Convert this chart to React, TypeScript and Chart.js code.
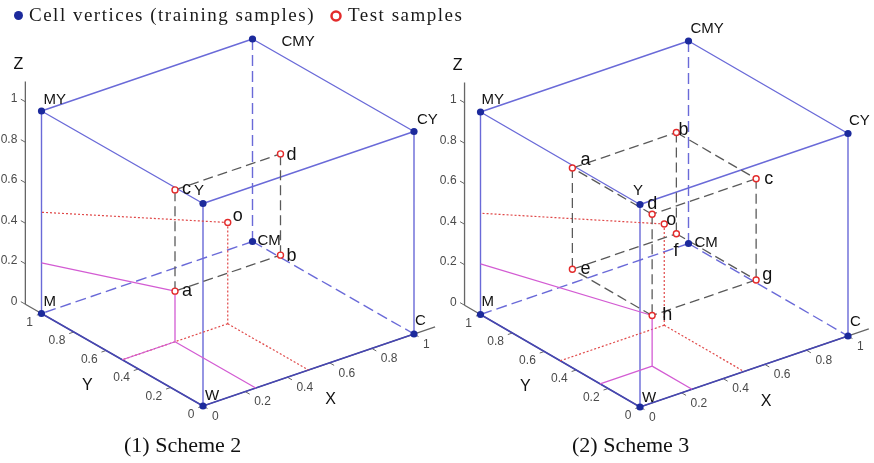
import React, { useEffect, useRef } from "react";
import { Chart, registerables } from "chart.js";

Chart.register(...registerables);

// ---------------- data ----------------
const vertexNames = ["W", "C", "M", "Y", "CM", "CY", "MY", "CMY"];
const vertexX = [0, 1, 0, 0, 1, 1, 0, 1];
const vertexY = [0, 0, 1, 0, 1, 0, 1, 1];
const vertexZ = [0, 0, 0, 1, 0, 1, 1, 1];

const visibleEdges = [["Y", "MY"], ["MY", "CMY"], ["CMY", "CY"], ["CY", "Y"], ["Y", "W"], ["MY", "M"], ["CY", "C"]];
const baseEdges = [["W", "C"], ["W", "M"]];
const hiddenEdges = [["CMY", "CM"], ["CM", "M"], ["CM", "C"]];

// Scheme 2 test samples
const scheme2Names = ["a", "b", "c", "d", "o"];
const scheme2X = [0.25, 0.75, 0.25, 0.75, 0.5];
const scheme2Y = [0.5, 0.5, 0.5, 0.5, 0.5];
const scheme2Z = [0.25, 0.25, 0.75, 0.75, 0.5];
const scheme2Edges = [["a", "b"], ["c", "d"], ["a", "c"], ["b", "d"]];
const scheme2Guide = "a";

// Scheme 3 test samples
const scheme3Names = ["a", "b", "c", "d", "e", "f", "g", "h", "o"];
const scheme3X = [0.25, 0.75, 0.75, 0.25, 0.25, 0.75, 0.75, 0.25, 0.5];
const scheme3Y = [0.75, 0.75, 0.25, 0.25, 0.75, 0.75, 0.25, 0.25, 0.5];
const scheme3Z = [0.75, 0.75, 0.75, 0.75, 0.25, 0.25, 0.25, 0.25, 0.5];
const scheme3Edges = [
  ["a", "b"], ["b", "c"], ["c", "d"], ["d", "a"],
  ["e", "f"], ["f", "g"], ["g", "h"], ["h", "e"],
  ["a", "e"], ["b", "f"], ["c", "g"], ["d", "h"],
];
const scheme3Guide = "h";
const centreSample = "o";

const tickValues = [0, 0.2, 0.4, 0.6, 0.8, 1];
const tickLabels = ["0", "0.2", "0.4", "0.6", "0.8", "1"];
const axisLimit = 1.1;
const axisTitles = ["X", "Y", "Z"];
const captions = ["(1) Scheme 2", "(2) Scheme 3"];
const legendLabels = ["Cell vertices (training samples)", "Test samples"];

// ---------------- layout ----------------
type V2 = [number, number];
interface PanelLayout {
  origin: V2; ex: V2; ey: V2; ez: V2;
  vertexLabel: Record<string, V2>;
  sampleLabel: Record<string, V2>;
  caption: V2;
}

const CW = 874;
const CH = 463;

const panels: PanelLayout[] = [
  {
    origin: [203, 406], ex: [211, -72], ey: [-161.5, -92.5], ez: [0, -202.5],
    vertexLabel: { W: [2, -6], C: [1, -9], M: [2, -8], CM: [5, 3], Y: [-9, -9], CY: [3, -8], MY: [2, -7], CMY: [29, 7] },
    sampleLabel: { a: [7, 5], b: [6, 5.5], c: [7, 4], d: [6, 6], o: [5, -2] },
    caption: [124, 451.5],
  },
  {
    origin: [640, 407], ex: [208, -71], ey: [-159.5, -92.5], ez: [0, -202.5],
    vertexLabel: { W: [2, -5], C: [2, -10], M: [1, -9], CM: [6, 3], Y: [-7, -10], CY: [1, -9], MY: [1, -8], CMY: [2, -8] },
    sampleLabel: { a: [8, -3], b: [2, 2.5], c: [8, 5], d: [-5, -5], o: [2, 1], e: [8, 5], f: [-3, 22], g: [6, 0], h: [10, 4] },
    caption: [572, 451.5],
  },
];

// legend layout: marker centre, text start / baseline
const legendLayout = [
  { marker: [18.5, 15.5] as V2, text: [29, 20.5] as V2 },
  { marker: [336, 16] as V2, text: [348, 20.5] as V2 },
];

const schemes = [
  { names: scheme2Names, xs: scheme2X, ys: scheme2Y, zs: scheme2Z, edges: scheme2Edges, guide: scheme2Guide },
  { names: scheme3Names, xs: scheme3X, ys: scheme3Y, zs: scheme3Z, edges: scheme3Edges, guide: scheme3Guide },
];

const COLORS = {
  vertex: "#1c2a9c",
  sample: "#e32b2b",
  edge: "#6a6ad8",
  base: "#4646b2",
  innerDash: "#5a5a5a",
  pink: "#d35cd3",
  dotted: "#e04848",
  axis: "#666666",
  text: "#111111",
  tick: "#4a4a4a",
};

type P3 = [number, number, number];
type Pt = { x: number | null; y: number | null };

function project(p: PanelLayout, q: P3): Pt {
  return {
    x: p.origin[0] + q[0] * p.ex[0] + q[1] * p.ey[0] + q[2] * p.ez[0],
    y: p.origin[1] + q[0] * p.ex[1] + q[1] * p.ey[1] + q[2] * p.ez[1],
  };
}

const GAP: Pt = { x: null, y: null };

function vertex3(name: string): P3 {
  const i = vertexNames.indexOf(name);
  return [vertexX[i], vertexY[i], vertexZ[i]];
}

function sample3(s: (typeof schemes)[number], name: string): P3 {
  const i = s.names.indexOf(name);
  return [s.xs[i], s.ys[i], s.zs[i]];
}

// Build segment data (with gaps) for both panels
function buildSegments(fn: (k: number) => [P3, P3][]): Pt[] {
  const out: Pt[] = [];
  panels.forEach((p, k) => {
    fn(k).forEach(([a, b]) => {
      out.push(project(p, a), project(p, b), GAP);
    });
  });
  return out;
}

function guideSegments(q: P3): [P3, P3][] {
  const floor: P3 = [q[0], q[1], 0];
  return [
    [q, floor],
    [floor, [0, q[1], 0]],
    [floor, [q[0], 0, 0]],
    [q, [0, 1, q[2]]],
  ];
}

const vertexPoints: Pt[] = [];
const samplePoints: Pt[] = [];
panels.forEach((p, k) => {
  vertexNames.forEach((n) => vertexPoints.push(project(p, vertex3(n))));
  const s = schemes[k];
  s.names.forEach((n) => samplePoints.push(project(p, sample3(s, n))));
});

const edgePairs = (list: string[][]) => list.map(([a, b]) => [vertex3(a), vertex3(b)] as [P3, P3]);
const visibleData = buildSegments(() => edgePairs(visibleEdges));
const baseData = buildSegments(() => edgePairs(baseEdges));
const hiddenData = buildSegments(() => edgePairs(hiddenEdges));
const innerData = buildSegments((k) => schemes[k].edges.map(([a, b]) => [sample3(schemes[k], a), sample3(schemes[k], b)] as [P3, P3]));
const pinkData = buildSegments((k) => guideSegments(sample3(schemes[k], schemes[k].guide)));
const dottedData = buildSegments((k) => guideSegments(sample3(schemes[k], centreSample)));
const axisData = buildSegments(() => [
  [[0, 0, 0], [axisLimit, 0, 0]],
  [[0, 0, 0], [0, axisLimit, 0]],
  [[0, axisLimit, 0], [0, axisLimit, axisLimit]],
]);
const tickData = buildSegments(() => {
  const out: [P3, P3][] = [];
  tickValues.forEach((t) => {
    out.push([[t, 0, 0], [t, -0.028, 0]]);
    out.push([[0, t, 0], [-0.022, t, 0]]);
    out.push([[0, axisLimit, t], [0, axisLimit + 0.028, t]]);
  });
  return out;
});

function lineSet(data: Pt[], color: string, width: number, dash: number[] = []) {
  return {
    type: "scatter" as const,
    data,
    showLine: true,
    spanGaps: false,
    borderColor: color,
    borderWidth: width,
    borderDash: dash,
    pointRadius: 0,
    pointHoverRadius: 0,
    fill: false,
  };
}

const SANS = "'Liberation Sans', Arial, sans-serif";
const SERIF = "'Liberation Serif', 'Times New Roman', serif";

const textPlugin = {
  id: "cubeText",
  afterDatasetsDraw(chart: any) {
    const ctx: any = chart.ctx;
    const sx = chart.scales.x;
    const sy = chart.scales.y;
    const pix = (pt: Pt): V2 => [sx.getPixelForValue(pt.x), sy.getPixelForValue(pt.y)];
    ctx.save();
    panels.forEach((p, k) => {
      const s = schemes[k];
      // vertex labels
      ctx.font = `15px ${SANS}`;
      ctx.fillStyle = COLORS.text;
      ctx.textAlign = "left";
      ctx.textBaseline = "alphabetic";
      vertexNames.forEach((n) => {
        const [x, y] = pix(project(p, vertex3(n)));
        const o = p.vertexLabel[n];
        ctx.fillText(n, x + o[0], y + o[1]);
      });
      // sample labels
      ctx.font = `18px ${SANS}`;
      s.names.forEach((n) => {
        const [x, y] = pix(project(p, sample3(s, n)));
        const o = p.sampleLabel[n];
        ctx.fillText(n, x + o[0], y + o[1]);
      });
      // tick labels
      ctx.font = `12px ${SANS}`;
      ctx.fillStyle = COLORS.tick;
      ctx.textBaseline = "middle";
      tickValues.forEach((t, i) => {
        let [x, y] = pix(project(p, [t, 0, 0]));
        ctx.textAlign = "left";
        ctx.fillText(tickLabels[i], x + 9, y + 10.5);
        [x, y] = pix(project(p, [0, t, 0]));
        ctx.textAlign = "right";
        ctx.fillText(tickLabels[i], x - 8.5, y + 9);
        [x, y] = pix(project(p, [0, axisLimit, t]));
        ctx.fillText(tickLabels[i], x - 8, y - 3);
      });
      // axis titles
      ctx.font = `16px ${SANS}`;
      ctx.fillStyle = COLORS.text;
      ctx.textAlign = "center";
      const anchors: [P3, V2][] = [
        [[0.5, 0, 0], [22, 30]],
        [[0, 0.5, 0], [-35, 26]],
        [[0, axisLimit, axisLimit], [-7, -17]],
      ];
      anchors.forEach(([q, o], i) => {
        const [x, y] = pix(project(p, q));
        ctx.fillText(axisTitles[i], x + o[0], y + o[1]);
      });
      // caption
      ctx.font = `22px ${SERIF}`;
      ctx.textAlign = "left";
      ctx.textBaseline = "alphabetic";
      ctx.fillStyle = COLORS.text;
      ctx.fillText(captions[k], p.caption[0], p.caption[1]);
    });

    // legend
    ctx.font = `19px ${SERIF}`;
    ctx.textAlign = "left";
    ctx.textBaseline = "alphabetic";
    if ("letterSpacing" in ctx) ctx.letterSpacing = "1.5px";
    legendLayout.forEach((L, i) => {
      ctx.beginPath();
      ctx.arc(L.marker[0], L.marker[1], 4.5, 0, Math.PI * 2);
      if (i === 0) {
        ctx.fillStyle = COLORS.vertex;
        ctx.fill();
      } else {
        ctx.fillStyle = "#ffffff";
        ctx.fill();
        ctx.lineWidth = 2.5;
        ctx.strokeStyle = COLORS.sample;
        ctx.stroke();
      }
      ctx.fillStyle = "#1a1a1a";
      ctx.fillText(legendLabels[i], L.text[0], L.text[1]);
    });
    if ("letterSpacing" in ctx) ctx.letterSpacing = "0px";
    ctx.restore();
  },
};

export default function App() {
  const ref = useRef<HTMLCanvasElement | null>(null);
  useEffect(() => {
    document.body.style.margin = "0";
    if (!ref.current) return;
    const chart = new Chart(ref.current, {
      type: "scatter",
      data: {
        datasets: [
          {
            label: legendLabels[0],
            data: vertexPoints,
            pointRadius: 3.6,
            pointBackgroundColor: COLORS.vertex,
            pointBorderColor: COLORS.vertex,
            pointBorderWidth: 0,
            pointHoverRadius: 3.6,
          },
          {
            label: legendLabels[1],
            data: samplePoints,
            pointRadius: 3,
            pointBackgroundColor: "#ffffff",
            pointBorderColor: COLORS.sample,
            pointBorderWidth: 1.4,
            pointHoverRadius: 3,
          },
          lineSet(innerData, COLORS.innerDash, 1.3, [10, 5]),
          lineSet(pinkData, COLORS.pink, 1.3),
          lineSet(dottedData, COLORS.dotted, 1.2, [2, 2]),
          lineSet(visibleData, COLORS.edge, 1.4),
          lineSet(baseData, COLORS.base, 1.7),
          lineSet(hiddenData, COLORS.edge, 1.4, [11, 5]),
          lineSet(axisData, COLORS.axis, 1.3),
          lineSet(tickData, COLORS.axis, 1),
        ] as any,
      },
      options: {
        animation: false,
        responsive: false,
        events: [],
        layout: { padding: 0, autoPadding: false },
        scales: {
          x: { type: "linear", min: 0, max: CW, bounds: "data", display: false },
          y: { type: "linear", min: 0, max: CH, bounds: "data", reverse: true, display: false },
        },
        plugins: {
          tooltip: { enabled: false },
          legend: { display: false },
        },
      } as any,
      plugins: [textPlugin],
    });
    return () => chart.destroy();
  }, []);
  return (
    <div style={{ width: CW, height: CH, background: "#ffffff" }}>
      <canvas ref={ref} width={CW} height={CH} style={{ display: "block" }} />
    </div>
  );
}
